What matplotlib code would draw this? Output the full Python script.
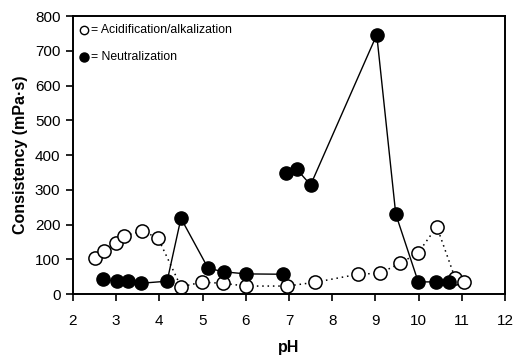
import numpy as np
import matplotlib.pyplot as plt

plt.rcParams['font.family'] = ['Liberation Sans', 'DejaVu Sans']

# acidification / alkalization (open circles, dotted)
ph_acid = [2.51, 2.72, 3.0, 3.18, 3.6, 3.97, 4.5, 4.98, 5.48, 6.0, 6.96, 7.61,
           8.6, 9.1, 9.57, 9.99, 10.42, 10.84, 11.05]
cons_acid = [104, 124, 147, 167, 182, 161, 21, 34, 31, 23, 23, 34,
             57, 60, 88, 119, 194, 47, 35]

# neutralization (filled circles, solid), two separate runs
ph_neut1 = [2.69, 3.03, 3.27, 3.57, 4.18, 4.5, 5.13, 5.5, 6.0, 6.87]
cons_neut1 = [42, 37, 37, 31, 37, 218, 74, 64, 58, 57]
ph_neut2 = [6.93, 7.18, 7.5, 9.03, 9.47, 9.99, 10.4, 10.71]
cons_neut2 = [348, 359, 314, 746, 230, 35, 35, 35]

fig = plt.figure(figsize=(5.17, 3.56), dpi=100)
ax = fig.add_axes([0.141, 0.174, 0.836, 0.781])

ax.plot(ph_acid, cons_acid, linestyle=(0, (1, 2.5)), color='black', lw=1.1,
        marker='o', markersize=9.5, markerfacecolor='white',
        markeredgecolor='black', markeredgewidth=1.1, zorder=2)
for xs, ys in [(ph_neut1, cons_neut1), (ph_neut2, cons_neut2)]:
    ax.plot(xs, ys, '-', color='black', lw=1.0, marker='o', markersize=9.5,
            markerfacecolor='black', markeredgecolor='black', zorder=3)

ax.set_xlim(2, 12)
ax.set_ylim(0, 800)
ax.set_xticks(np.arange(2, 13, 1))
ax.set_yticks(np.arange(0, 801, 100))
ax.tick_params(direction='out', length=5, width=1.2, labelsize=11, pad=4)
for s in ax.spines.values():
    s.set_linewidth(1.4)
ax.tick_params(axis='x', pad=9)

ax.set_xlabel('pH', fontsize=11.5, fontweight='bold', labelpad=9)
ax.set_ylabel('Consistency (mPa·s)', fontsize=11.5, fontweight='bold', labelpad=5)

# key in the upper left corner
ax.plot([0.025], [0.950], 'o', transform=ax.transAxes, markersize=6,
        markerfacecolor='white', markeredgecolor='black', markeredgewidth=1)
ax.text(0.041, 0.950, '= Acidification/alkalization', transform=ax.transAxes,
        fontsize=8.8, va='center')
ax.plot([0.025], [0.854], 'o', transform=ax.transAxes, markersize=6.5,
        markerfacecolor='black', markeredgecolor='black')
ax.text(0.041, 0.854, '= Neutralization', transform=ax.transAxes,
        fontsize=8.8, va='center')

fig.savefig('out.png', dpi=100)
